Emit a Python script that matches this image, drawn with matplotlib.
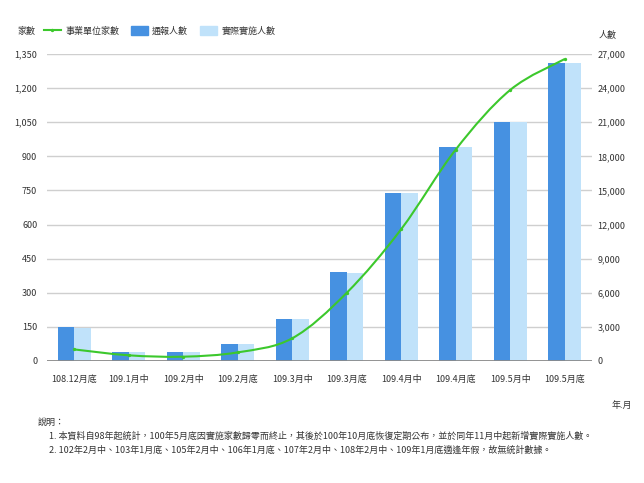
import matplotlib
matplotlib.use('Agg')
import matplotlib.pyplot as plt
from matplotlib.path import Path
from matplotlib.patches import PathPatch, Patch
from matplotlib.lines import Line2D
import numpy as np

plt.rcParams['font.family'] = ['Noto Sans CJK TC', 'DejaVu Sans']

categories = ['108.12月底', '109.1月中', '109.2月中', '109.2月底', '109.3月中',
              '109.3月底', '109.4月中', '109.4月底', '109.5月中', '109.5月底']
units = [51, 25, 19, 38, 100, 300, 580, 930, 1192, 1328]
reported = [2950, 790, 790, 1520, 3700, 7800, 14780, 18800, 21000, 26250]
actual = [2920, 770, 770, 1500, 3680, 7780, 14760, 18780, 20980, 26230]
left_ticks = list(range(0, 1351, 150))
right_ticks = list(range(0, 27001, 3000))

series_names = ['事業單位家數', '通報人數', '實際實施人數']
note_title = '說明：'
note1 = '1. 本資料自98年起統計，100年5月底因實施家數歸零而終止，其後於100年10月底恢復定期公布，並於同年11月中起新增實際實施人數。'
note2 = '2. 102年2月中、103年1月底、105年2月中、106年1月底、107年2月中、108年2月中、109年1月底適逢年假，故無統計數據。'

green = '#3cc82c'
dark = '#4691e1'
light = '#c0e2fa'
txt = '#333333'
fs = 6.5

W, H = 644, 483
fig = plt.figure(figsize=(W / 100, H / 100), dpi=100)
fig.patch.set_facecolor('white')
ax = fig.add_axes([47 / W, 122 / H, 545 / W, 307 / H])
ax2 = ax.twinx()
ax.set_zorder(3)
ax.patch.set_visible(False)
ax2.set_zorder(1)

x = np.arange(len(categories))
bw = 0.3
ax2.bar(x - bw / 2, reported, bw, color=dark, zorder=2)
ax2.bar(x + bw / 2, actual, bw, color=light, zorder=2)
ax2.set_ylim(0, 27000)
ax2.set_yticks(right_ticks)
ax2.set_yticklabels([f'{v:,}' for v in right_ticks])
ax2.yaxis.grid(True, color='#cfcfcf', lw=1)
ax2.set_axisbelow(True)
ax2.axhline(0, color='#8a8a8a', lw=2, zorder=4)
ax2.tick_params(axis='y', length=0, pad=4, labelsize=fs, labelcolor=txt)

# smooth line (Catmull-Rom as cubic Bezier)
xs = x.astype(float)
ys = np.array(units, dtype=float)
verts = [(xs[0], ys[0])]
codes = [Path.MOVETO]
n = len(xs)
for i in range(n - 1):
    p0 = np.array([xs[max(i - 1, 0)], ys[max(i - 1, 0)]])
    p1 = np.array([xs[i], ys[i]])
    p2 = np.array([xs[i + 1], ys[i + 1]])
    p3 = np.array([xs[min(i + 2, n - 1)], ys[min(i + 2, n - 1)]])
    c1 = p1 + (p2 - p0) / 6
    c2 = p2 - (p3 - p1) / 6
    verts += [tuple(c1), tuple(c2), tuple(p2)]
    codes += [Path.CURVE4] * 3
ax.add_patch(PathPatch(Path(verts, codes), fill=False, edgecolor=green, lw=1.5, zorder=5))
ax.plot(xs, ys, 'o', ms=1.4, color=green, zorder=6)

ax.set_xlim(-0.5, len(categories) - 0.5)
ax.set_ylim(0, 1350)
ax.set_yticks(left_ticks)
ax.set_yticklabels([f'{v:,}' for v in left_ticks])
ax.set_xticks(x)
ax.set_xticklabels(categories)
ax.tick_params(axis='y', length=0, pad=7, labelsize=fs, labelcolor=txt)
ax.tick_params(axis='x', length=0, pad=10, labelsize=fs, labelcolor=txt)
for a in (ax, ax2):
    for s in a.spines.values():
        s.set_visible(False)

handles = [Line2D([0], [0], color=green, lw=1.5, marker='o', ms=1.4),
           Patch(color=dark), Patch(color=light)]
fig.legend(handles, series_names, loc='center left', bbox_to_anchor=(44 / W, 1 - 31 / H),
           ncol=3, frameon=False, fontsize=fs, handlelength=1.85, handleheight=1.1,
           handletextpad=0.5, columnspacing=1.3, borderpad=0, borderaxespad=0,
           labelcolor=txt)

fig.text(17 / W, 1 - 31 / H, '家數', ha='left', va='center', fontsize=fs, color=txt)
fig.text(608 / W, 1 - 35 / H, '人數', ha='center', va='center', fontsize=fs, color=txt)
fig.text(622 / W, 1 - 405 / H, '年.月', ha='center', va='center', fontsize=fs, color=txt)
fig.text(38 / W, 1 - 422 / H, note_title, ha='left', va='center', fontsize=fs, color=txt)
fig.text(49 / W, 1 - 436 / H, note1, ha='left', va='center', fontsize=fs, color=txt)
fig.text(49 / W, 1 - 450 / H, note2, ha='left', va='center', fontsize=fs, color=txt)

fig.savefig('out.png', dpi=100, facecolor='white')
